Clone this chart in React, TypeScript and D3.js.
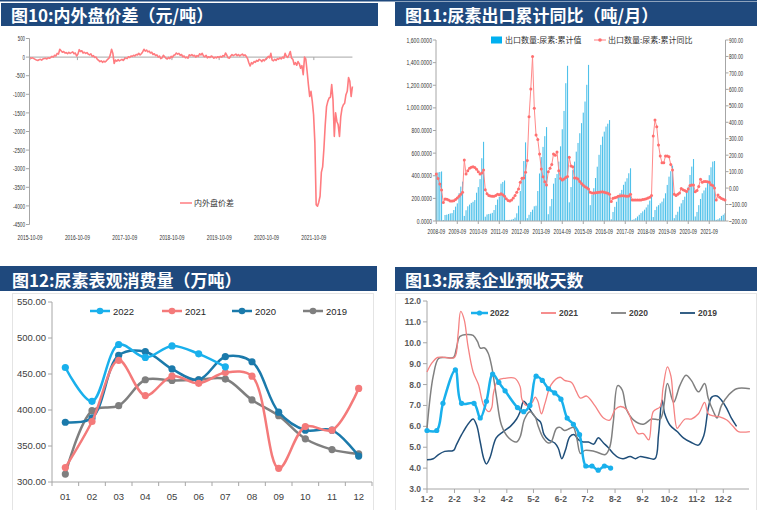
import React from 'react';
import * as d3 from 'd3';

// ================= Chart 10: 内外盘价差 =================
const spreadStart = '2015-10-09';
const spreadStepDays = 10;
const spreadValues = [
  -20, -30, -20, -40, -60, -80, -90, -70, -60, -80, -50, -40, -30, -50, -20, -30,
  -10, 20, 0, 50, 30, 100, 80, 210, 170, 130, 150, 110, 120, 90, 130, 100, 120, 140, 90, 110, 30,
  80, 200, 150, 170, 110, 130, 100, 120, 80, 60, 90, 20, 40, -10, 0, -60, -90, -120, -100, -140,
  -110, -130, -100, -60, -30, 60, 210, 100, -170, -80, -110, -70, -100, -80, -60, -90, -40,
  -20, -40, 10, -10, 30, 20, 50, 30, 70, 60, 100, 60, 90, 140, 210, 160, 190, 140, 160, 110,
  130, 70, 90, 40, 60, 0, 30, -40, -20, 50, 10, -30, -50, -10, -40, 20,
  -10, 50, 60, 110, 80, 100, 50, 70, 10, 30, -20, 0, -30, 60, 40, 70, 30, 50, 0, 40,
  20, 90, 60, 100, 30, 10, 50, -20, 10, -10, 30, 10, -30, 0, -20, 10, -10,
  20, 0, 40, 20, 110, 50, -20, -30, 30, 70, 40, 60, 80, 40, 70, 30, 60, 80, 40, 60,
  20, -40, -150, -240, -150, -180, -120, -140, -90, -110, -60, -80, -120, -70, -100, -50, -30,
  20, -20, 100, -80, -100, -60, -90, -40, -60, -20,
  -50, 0, -30, 100, 20, -10, 60, 150, -30, -60,
  -200, -150, -220, -120, -180, -300, -230, -470, 0, -50,
  -380, -740, -1060, -920, -1190, -1550, -2300, -3970, -4010, -3900,
  -3740, -3100, -2950, -2450, -1820, -1330, -1190, -1100, -1080, -740,
  -1150, -2130, -1500, -1730, -1820, -2130, -1600, -1370, -1280, -1240,
  -1010, -920, -550, -650, -1060, -790,
];
const spreadTickLabels = ['2015-10-09', '2016-10-09', '2017-10-09', '2018-10-09', '2019-10-09', '2020-10-09', '2021-10-09'];
const spreadYTicks = [500, 0, -500, -1000, -1500, -2000, -2500, -3000, -3500, -4000, -4500];

// ================= Chart 11: 尿素出口累计 =================
const exp2008 = [425, 430, 433, 438];
const exp2009 = [9, 53, 56, 62, 67, 70, 97, 127, 156, 245, 304, 348];
const exp2010 = [45, 95, 130, 145, 160, 170, 185, 250, 300, 370, 555, 700];
const exp2011 = [38, 58, 62, 65, 72, 97, 142, 190, 215, 330, 345, 358];
const exp2012 = [8, 9, 10, 12, 18, 30, 68, 135, 265, 390, 530, 695];
const exp2013 = [25, 55, 80, 100, 130, 135, 265, 420, 565, 655, 750, 830];
const exp2014 = [60, 130, 195, 330, 380, 415, 525, 660, 811, 973, 1218, 1372];
const exp2015 = [165, 300, 450, 525, 613, 690, 776, 865, 958, 1056, 1204, 1380];
const exp2016 = [140, 230, 290, 380, 480, 585, 673, 746, 790, 835, 860, 892];
const exp2017 = [15, 80, 125, 170, 210, 245, 275, 320, 348, 378, 422, 466];
const exp2018 = [10, 15, 25, 40, 55, 70, 85, 100, 120, 145, 180, 230];
const exp2019 = [35, 97, 127, 140, 156, 171, 200, 245, 319, 392, 440, 490];
const exp2020 = [25, 55, 82, 127, 156, 186, 215, 260, 304, 407, 481, 548];
const exp2021 = [40, 80, 140, 195, 245, 270, 295, 335, 405, 475, 525, 530];
const exp2022 = [10, 15, 25, 45, 55, 68];
const yoy2008 = [85, 59, 25, -12];
const yoy2009 = [-87, -67, -68, -73, -78, -79, -77, -70, -60, -50, -38, -25];
const yoy2010 = [170, 85, 106, 120, 126, 130, 125, 115, 100, 85, 92, 110];
const yoy2011 = [-10, -35, -45, -48, -50, -50, -45, -38, -40, -35, -40, -50];
const yoy2012 = [-65, -75, -78, -72, -60, -45, -25, -5, 35, 60, 62, 96];
const yoy2013 = [167, 434, 602, 799, 485, 323, 296, 207, 116, 69, 39, 19];
const yoy2014 = [100, 120, 144, 207, 200, 220, 106, 59, 49, 55, 65, 70];
const yoy2015 = [187, 134, 130, 62, 62, 55, 40, 28, 18, 8, 2, -5];
const yoy2016 = [-25, -30, -30, -28, -27, -25, -24, -22, -25, -28, -32, -38];
const yoy2017 = [-82, -62, -58, -55, -50, -48, -46, -47, -48, -50, -48, -38];
const yoy2018 = [-72, -72, -72, -72, -72, -72, -70, -68, -65, -60, -55, -45];
const yoy2019 = [316, 414, 373, 262, 195, 154, 154, 195, 195, 190, 144, 110];
const yoy2020 = [-38, -45, -38, -30, -2, -10, -15, -20, -5, 15, 19, 19];
const yoy2021 = [-22, -15, 10, 53, 35, 40, 40, 39, 35, 20, 15, 0];
const yoy2022 = [-73, -42, -55, -63, -68, -72];
const exportYearLabels = ['2008-09', '2009-09', '2010-09', '2011-09', '2012-09', '2013-09', '2014-09', '2015-09', '2016-09', '2017-09', '2018-09', '2019-09', '2020-09', '2021-09'];
const exportLeftTicks = [0, 200, 400, 600, 800, 1000, 1200, 1400, 1600];
const exportRightTicks = [-200, -100, 0, 100, 200, 300, 400, 500, 600, 700, 800, 900];

const exportValues = [
  ...exp2008, ...exp2009, ...exp2010, ...exp2011, ...exp2012, ...exp2013, ...exp2014, ...exp2015,
  ...exp2016, ...exp2017, ...exp2018, ...exp2019, ...exp2020, ...exp2021, ...exp2022,
];
const yoyValues = [
  ...yoy2008, ...yoy2009, ...yoy2010, ...yoy2011, ...yoy2012, ...yoy2013, ...yoy2014, ...yoy2015,
  ...yoy2016, ...yoy2017, ...yoy2018, ...yoy2019, ...yoy2020, ...yoy2021, ...yoy2022,
];

// ================= Chart 12: 尿素表观消费量 =================
const consMonths = ['01', '02', '03', '04', '05', '06', '07', '08', '09', '10', '11', '12'];
const cons2022 = [459, 412, 491, 473, 489, 478, 460];
const cons2021 = [320, 384, 469, 420, 447, 437, 452, 447, 319, 377, 372, 430];
const cons2020 = [383, 389, 476, 481, 457, 442, 474, 467, 397, 372, 372, 336];
const cons2019 = [311, 399, 406, 442, 441, 442, 443, 414, 392, 360, 345, 339];
const consYTicks = [300, 350, 400, 450, 500, 550];

// ================= Chart 13: 尿素企业预收天数 =================
const presaleTickDays = [0, 31, 59, 90, 120, 151, 181, 212, 243, 273, 304, 334];
const presaleTickLabels = ['1-2', '2-2', '3-2', '4-2', '5-2', '6-2', '7-2', '8-2', '9-2', '10-2', '11-2', '12-2'];
const presaleYTicks = [3, 4, 5, 6, 7, 8, 9, 10, 11, 12];
const days2022 = [0, 11, 18, 32, 39, 53, 60, 67, 74, 81, 88, 102, 109, 116, 123, 130, 137, 144, 151, 158, 165, 172, 179, 186, 193, 200, 207];
const pre2022 = [5.8, 5.8, 7.1, 8.7, 7.1, 7.1, 6.4, 7.2, 8.5, 8.1, 7.7, 6.9, 6.7, 7.0, 8.4, 8.2, 7.8, 7.6, 7.3, 6.4, 6.1, 5.6, 4.1, 4.1, 3.9, 4.1, 4.0];
const days2021 = [0, 5, 12, 20, 31, 35, 38, 42, 46, 52, 58, 64, 70, 73, 75, 80, 88, 99, 105, 107, 112, 118, 122, 125, 129, 133, 140, 150, 155, 163, 168, 173, 180, 189, 199, 206, 212, 218, 225, 233, 238, 244, 250, 255, 263, 266, 271, 275, 278, 282, 285, 291, 298, 306, 313, 317, 323, 330, 338, 345, 351, 364];
const pre2021 = [8.6, 9.0, 9.3, 9.3, 9.3, 10.4, 11.5, 11.1, 9.9, 8.6, 8.0, 7.0, 6.7, 6.9, 7.6, 8.2, 8.3, 8.3, 7.9, 7.3, 7.0, 7.1, 7.4, 7.2, 6.6, 7.1, 8.0, 8.35, 8.2, 8.1, 7.7, 7.35, 7.45, 7.0, 6.4, 6.3, 6.8, 6.95, 6.8, 6.0, 5.65, 5.65, 5.35, 6.7, 6.95, 7.8, 8.85, 8.4, 7.0, 5.9, 6.05, 6.35, 6.35, 6.6, 7.15, 6.6, 6.5, 6.45, 6.3, 6.0, 5.75, 5.75];
const days2020 = [0, 7, 13, 20, 30, 33, 37, 45, 52, 57, 60, 65, 69, 73, 78, 84, 92, 101, 105, 110, 116, 122, 125, 131, 137, 140, 146, 150, 155, 161, 165, 169, 173, 178, 189, 201, 206, 210, 215, 220, 225, 233, 244, 253, 263, 271, 278, 285, 292, 298, 306, 313, 317, 323, 327, 332, 340, 349, 364];
const pre2020 = [5.9, 8.4, 9.25, 9.3, 9.3, 9.7, 10.3, 10.4, 10.35, 10.05, 9.75, 9.75, 9.5, 8.85, 7.5, 6.05, 5.45, 5.25, 5.5, 6.35, 6.7, 6.45, 6.05, 5.45, 5.2, 5.25, 5.9, 5.95, 5.8, 5.9, 5.95, 5.4, 4.7, 4.85, 4.8, 4.65, 5.0, 6.2, 7.95, 7.75, 6.8, 6.3, 6.1, 6.35, 6.35, 8.05, 7.15, 7.95, 8.45, 8.2, 7.65, 8.05, 7.35, 6.7, 6.4, 7.0, 7.5, 7.8, 7.8];
const days2019 = [0, 7, 13, 20, 30, 33, 39, 47, 52, 56, 60, 64, 67, 71, 78, 86, 94, 101, 105, 109, 114, 120, 124, 128, 132, 137, 144, 148, 152, 156, 161, 166, 171, 176, 182, 188, 193, 199, 204, 210, 216, 221, 229, 235, 240, 248, 257, 261, 265, 268, 274, 282, 289, 297, 306, 312, 317, 321, 327, 332, 338, 343, 349];
const pre2019 = [4.4, 4.45, 4.65, 4.8, 4.85, 5.1, 5.6, 6.15, 6.35, 6.05, 5.25, 4.45, 4.2, 4.5, 5.45, 5.75, 6.0, 6.35, 6.7, 7.2, 6.95, 6.55, 6.35, 6.2, 5.6, 5.35, 5.2, 4.95, 4.45, 4.85, 5.5, 5.6, 5.35, 5.25, 5.25, 5.15, 5.45, 5.2, 5.0, 4.7, 4.5, 4.45, 4.55, 4.45, 4.55, 4.5, 4.45, 5.6, 7.25, 6.6, 6.05, 5.75, 5.45, 5.25, 5.1, 5.55, 6.85, 7.4, 7.45, 7.25, 6.85, 6.4, 6.0];

// ================= Styling =================
const TITLE_BG = '#1F497D';
const CJK = "'Noto Sans CJK SC', 'Noto Sans CJK JP', sans-serif";
const SANS = "'Liberation Sans', Arial, sans-serif";
const AXIS = '#A6A6A6';

function Title({ x, y, w, h, text, tx }: { x: number; y: number; w: number; h: number; text: string; tx: number }) {
  return (
    <g>
      <rect x={x} y={y} width={w} height={h} fill={TITLE_BG} />
      <text x={tx} y={y + h - 4.5} fill="#fff" fontSize={17} fontWeight={700} fontFamily={CJK}>{text}</text>
    </g>
  );
}

// approximate natural width (em) of a Liberation Sans numeric string
const emWidth = (s: string) =>
  s.split('').reduce((a, c) => a + (/[0-9]/.test(c) ? 0.556 : c === '-' ? 0.333 : 0.278), 0);

// condensed small label (the reference uses a narrow face): horizontal squeeze by transform
function NText({ x, y, anchor, text, per = 2.5 }: { x: number; y: number; anchor: 'start' | 'middle' | 'end'; text: string; per?: number }) {
  const fs = 7.8;
  const natural = emWidth(text) * fs;
  const sx = (text.length * per) / natural;
  return (
    <g transform={`translate(${x},${y}) scale(${sx.toFixed(3)},1)`}>
      <text x={0} y={0} textAnchor={anchor} fontSize={fs} fontFamily={SANS} fill="#333">{text}</text>
    </g>
  );
}

function Chart10() {
  const parse = d3.timeParse('%Y-%m-%d');
  const start = parse(spreadStart) as Date;
  const x = d3.scaleTime()
    .domain([parse('2015-10-09') as Date, parse('2022-10-09') as Date])
    .range([30, 30 + 7 * 47.3]);
  const y = d3.scaleLinear().domain([-4500, 500]).range([224.5, 38.5]);
  const pts = spreadValues.map((v, i) => [x(d3.timeDay.offset(start, i * spreadStepDays)), y(v)] as [number, number]);
  const line = d3.line().curve(d3.curveLinear)(pts) || '';
  const xEnd = pts[pts.length - 1][0];
  return (
    <g>
      <line x1={29.5} x2={29.5} y1={38.5} y2={224.5} stroke={AXIS} />
      {spreadYTicks.map((t) => (
        <g key={t}>
          <line x1={26} x2={29.5} y1={y(t)} y2={y(t)} stroke={AXIS} />
          <NText x={25} y={y(t) + 2.6} anchor="end" text={String(t)} per={2.4} />
        </g>
      ))}
      <line x1={29.5} x2={xEnd} y1={y(0)} y2={y(0)} stroke={AXIS} strokeWidth={1} />
      {spreadTickLabels.map((l) => {
        const xx = x(parse(l) as Date);
        return (
          <g key={l}>
            <line x1={xx} x2={xx} y1={y(0)} y2={y(0) + 3} stroke={AXIS} />
            <NText x={xx} y={240} anchor="middle" text={l} per={2.5} />
          </g>
        );
      })}
      <path d={line} fill="none" stroke="#FF7C80" strokeWidth={1.6} strokeLinejoin="round" />
      <line x1={180} x2={192} y1={203} y2={203} stroke="#FF7C80" strokeWidth={1.5} />
      <text x={194} y={206} fontSize={8} fontFamily={CJK} fill="#333">内外盘价差</text>
    </g>
  );
}

function Chart11() {
  const n = exportValues.length;
  const x = d3.scaleLinear().domain([0, n - 1]).range([436.3, 725]);
  const yL = d3.scaleLinear().domain([0, 1600]).range([221, 40]);
  const yR = d3.scaleLinear().domain([-200, 900]).range([221, 40]);
  const fmtL = d3.format(',.4f');
  const fmtR = d3.format('.2f');
  const pts = yoyValues.map((v, i) => [x(i), yR(v)] as [number, number]);
  const line = d3.line().curve(d3.curveLinear)(pts) || '';
  return (
    <g>
      {exportValues.map((v, i) => (
        <rect key={i} x={x(i) - 0.55} width={1.1} y={yL(v)} height={yL(0) - yL(v)} fill="#4FC1EA" />
      ))}
      <line x1={436} x2={436} y1={40} y2={221} stroke={AXIS} />
      <line x1={725.5} x2={725.5} y1={40} y2={221} stroke={AXIS} />
      <line x1={436} x2={725.5} y1={221} y2={221} stroke={AXIS} />
      {exportLeftTicks.map((t) => (
        <g key={t}>
          <line x1={433} x2={436} y1={yL(t)} y2={yL(t)} stroke={AXIS} />
          <NText x={432} y={yL(t) + 2.6} anchor="end" text={fmtL(t)} per={2.55} />
        </g>
      ))}
      {exportRightTicks.map((t) => (
        <g key={t}>
          <line x1={725.5} x2={728.5} y1={yR(t)} y2={yR(t)} stroke={AXIS} />
          <NText x={729} y={yR(t) + 2.6} anchor="start" text={fmtR(t)} per={2.35} />
        </g>
      ))}
      {exportYearLabels.map((l, k) => {
        const xx = x(k * 12);
        return (
          <g key={l}>
            <line x1={xx} x2={xx} y1={221} y2={224} stroke={AXIS} />
            <NText x={xx} y={234} anchor="middle" text={l} per={2.5} />
          </g>
        );
      })}
      <path d={line} fill="none" stroke="#FF8A8A" strokeWidth={1} />
      {pts.map((p, i) => (
        <circle key={i} cx={p[0]} cy={p[1]} r={1.5} fill="#FF6F6F" />
      ))}
      <rect x={491} y={36.5} width={11} height={7} fill="#00B0F0" />
      <text x={505} y={43} fontSize={8} fontFamily={CJK} fill="#333">出口数量:尿素:累计值</text>
      <line x1={594} x2={606} y1={40} y2={40} stroke="#FF7C80" strokeWidth={1} />
      <circle cx={600} cy={40} r={1.8} fill="#FF6F6F" />
      <text x={608} y={43} fontSize={8} fontFamily={CJK} fill="#333">出口数量:尿素:累计同比</text>
    </g>
  );
}

function Chart12() {
  const x = d3.scaleBand().domain(consMonths).range([52, 372]);
  const y = d3.scaleLinear().domain([300, 550]).range([482, 302]);
  const cx = (i: number) => (x(consMonths[i]) as number) + x.bandwidth() / 2;
  const series = [
    { name: '2022', data: cons2022, color: '#19B0EC', lx: 90 },
    { name: '2021', data: cons2021, color: '#F47A7A', lx: 162 },
    { name: '2020', data: cons2020, color: '#1B7AAB', lx: 232 },
    { name: '2019', data: cons2019, color: '#7F7F7F', lx: 303 },
  ];
  const gen = d3.line<number>().x((_, i) => cx(i)).y((d) => y(d)).curve(d3.curveCatmullRom.alpha(0.5));
  const order = [3, 2, 1, 0];
  return (
    <g>
      <rect x={12.5} y={293.5} width={361} height={220} fill="none" stroke="#E4E4E4" />
      <line x1={52} x2={52} y1={302} y2={482} stroke={AXIS} />
      <line x1={52} x2={372} y1={482} y2={482} stroke={AXIS} />
      {consYTicks.map((t) => (
        <g key={t}>
          <line x1={48} x2={52} y1={y(t)} y2={y(t)} stroke={AXIS} />
          <text x={46} y={y(t) + 3.3} textAnchor="end" fontSize={9.5} fontFamily={SANS} fill="#404040">{t.toFixed(2)}</text>
        </g>
      ))}
      {consMonths.map((m, i) => (
        <g key={m}>
          <line x1={x(m) as number} x2={x(m) as number} y1={482} y2={486} stroke={AXIS} />
          <text x={cx(i)} y={500} textAnchor="middle" fontSize={9.5} fontFamily={SANS} fill="#404040">{m}</text>
        </g>
      ))}
      <line x1={372} x2={372} y1={482} y2={486} stroke={AXIS} />
      {order.map((k) => {
        const s = series[k];
        return (
          <g key={s.name}>
            <path d={gen(s.data) || ''} fill="none" stroke={s.color} strokeWidth={2.5} />
            {s.data.map((d, i) => (
              <circle key={i} cx={cx(i)} cy={y(d)} r={3.6} fill={s.color} />
            ))}
          </g>
        );
      })}
      {series.map((s) => (
        <g key={s.name}>
          <line x1={s.lx} x2={s.lx + 20} y1={311} y2={311} stroke={s.color} strokeWidth={2.5} />
          <circle cx={s.lx + 10} cy={311} r={3.3} fill={s.color} />
          <text x={s.lx + 23} y={314.5} fontSize={9.5} fontFamily={SANS} fill="#262626">{s.name}</text>
        </g>
      ))}
    </g>
  );
}

function Chart13() {
  const x = d3.scaleLinear().domain([0, 363]).range([427, 749]);
  const y = d3.scaleLinear().domain([3, 12]).range([489, 301]);
  const mk = (days: number[], vals: number[]) =>
    d3.line().curve(d3.curveCatmullRom.alpha(0.5))(days.map((d, i) => [x(d), y(vals[i])] as [number, number])) || '';
  const series = [
    { name: '2019', days: days2019, vals: pre2019, color: '#1F4E79', w: 1.5, lx: 680 },
    { name: '2020', days: days2020, vals: pre2020, color: '#808080', w: 1.5, lx: 611 },
    { name: '2021', days: days2021, vals: pre2021, color: '#F58282', w: 1.3, lx: 541 },
  ];
  return (
    <g>
      <rect x={395.5} y={293.5} width={361} height={220} fill="none" stroke="#E4E4E4" />
      <line x1={427} x2={427} y1={301} y2={489} stroke={AXIS} />
      <line x1={427} x2={749} y1={489} y2={489} stroke={AXIS} />
      {presaleYTicks.map((t) => (
        <g key={t}>
          <line x1={423} x2={427} y1={y(t)} y2={y(t)} stroke={AXIS} />
          <text x={421} y={y(t) + 3} textAnchor="end" fontSize={8.5} fontWeight={700} fontFamily={SANS} fill="#595959">{t.toFixed(1)}</text>
        </g>
      ))}
      {presaleTickDays.map((d, i) => (
        <g key={d}>
          <line x1={x(d)} x2={x(d)} y1={489} y2={493} stroke={AXIS} />
          <text x={x(d)} y={502} textAnchor="middle" fontSize={8.5} fontWeight={700} fontFamily={SANS} fill="#595959">{presaleTickLabels[i]}</text>
        </g>
      ))}
      {series.map((s) => (
        <path key={s.name} d={mk(s.days, s.vals)} fill="none" stroke={s.color} strokeWidth={s.w} />
      ))}
      <path d={mk(days2022, pre2022)} fill="none" stroke="#19B0EC" strokeWidth={2.5} />
      {days2022.map((d, i) => (
        <circle key={i} cx={x(d)} cy={y(pre2022[i])} r={2.6} fill="#19B0EC" />
      ))}
      <line x1={471} x2={488} y1={313} y2={313} stroke="#19B0EC" strokeWidth={2.5} />
      <circle cx={479.5} cy={313} r={2.6} fill="#19B0EC" />
      <text x={490} y={316} fontSize={8.5} fontWeight={700} fontFamily={SANS} fill="#404040">2022</text>
      {series.map((s) => (
        <g key={s.name}>
          <line x1={s.lx} x2={s.lx + 15} y1={313} y2={313} stroke={s.color} strokeWidth={1.8} />
          <text x={s.lx + 18} y={316} fontSize={8.5} fontWeight={700} fontFamily={SANS} fill="#404040">{s.name}</text>
        </g>
      ))}
    </g>
  );
}

export default function App() {
  return (
    <svg width={757} height={510} style={{ position: 'absolute', left: 0, top: 0, background: '#fff' }}>
      <rect x={0} y={0} width={757} height={510} fill="#fff" />
      <rect x={0} y={0} width={757} height={1.5} fill={TITLE_BG} />
      <Title x={1} y={3} w={377} h={23} text="图10:内外盘价差（元/吨）" tx={11} />
      <Title x={395} y={2} w={362} h={24} text="图11:尿素出口累计同比（吨/月）" tx={405} />
      <Title x={0} y={266} w={377} h={25} text="图12:尿素表观消费量（万吨）" tx={12} />
      <Title x={395} y={267} w={362} h={24} text="图13:尿素企业预收天数" tx={405} />
      <Chart10 />
      <Chart11 />
      <Chart12 />
      <Chart13 />
    </svg>
  );
}
